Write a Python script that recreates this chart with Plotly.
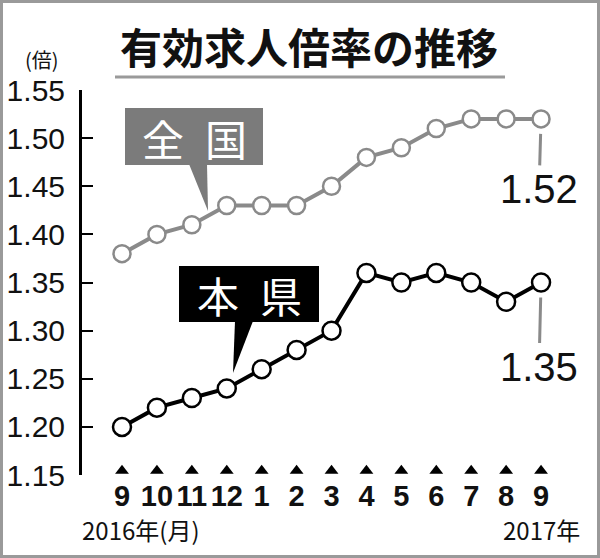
import plotly.graph_objects as go

months = ["9", "10", "11", "12", "1", "2", "3", "4", "5", "6", "7", "8", "9"]
national = [1.38, 1.40, 1.41, 1.43, 1.43, 1.43, 1.45, 1.48, 1.49, 1.51, 1.52, 1.52, 1.52]
prefecture = [1.20, 1.22, 1.23, 1.24, 1.26, 1.28, 1.30, 1.36, 1.35, 1.36, 1.35, 1.33, 1.35]
yticks = [1.15, 1.20, 1.25, 1.30, 1.35, 1.40, 1.45, 1.50, 1.55]
series_names = ["全　国", "本　県"]

W, H = 600, 558
L, R, T, B = 82, 10, 90, 83
PW, PH = W - L - R, H - T - B


def px(x):
    return (x - L) / PW


def py(y):
    return (H - B - y) / PH


idx = list(range(len(months)))
step = 34.92
x0 = -(122 - L) / step
x1 = (W - R - 122) / step

NUM = "Liberation Sans, Arial, sans-serif"
CJK = "Noto Sans CJK JP"

fig = go.Figure()

# dome tick marks at bottom
fig.add_trace(go.Scatter(
    x=idx, y=[yticks[0] + 0.0045] * len(idx), mode="markers",
    marker=dict(symbol="triangle-up", size=12, color="black"),
    hoverinfo="skip", showlegend=False, cliponaxis=False))

fig.add_trace(go.Scatter(
    x=idx, y=national, mode="lines+markers", name=series_names[0],
    line=dict(color="#8a8a8a", width=4),
    marker=dict(symbol="circle", size=17, color="white",
                line=dict(color="#8a8a8a", width=2.5)),
    showlegend=False, cliponaxis=False))

fig.add_trace(go.Scatter(
    x=idx, y=prefecture, mode="lines+markers", name=series_names[1],
    line=dict(color="black", width=4),
    marker=dict(symbol="circle", size=18, color="white",
                line=dict(color="black", width=2.5)),
    showlegend=False, cliponaxis=False))

shapes = []
annotations = []

# outer frame
shapes.append(dict(type="rect", xref="paper", yref="paper",
                   x0=px(1.5), x1=px(W - 1.5), y0=py(H - 1.5), y1=py(1.5),
                   line=dict(color="#9a9a9a", width=3)))

# title + underline
annotations.append(dict(text="有効求人倍率の推移", xref="paper", yref="paper",
                        x=px(309), y=py(46), showarrow=False,
                        font=dict(family=CJK, size=42, color="#111", weight=700),
                        xanchor="center", yanchor="middle"))
shapes.append(dict(type="line", xref="paper", yref="paper",
                   x0=px(115), x1=px(505), y0=py(77), y1=py(77),
                   line=dict(color="#9a9a9a", width=3)))

# unit label
annotations.append(dict(text="(倍)", xref="paper", yref="paper",
                        x=px(42), y=py(60), showarrow=False,
                        font=dict(family=CJK, size=20, color="#111"),
                        xanchor="center", yanchor="middle"))

# national label box
shapes.append(dict(type="rect", xref="paper", yref="paper",
                   x0=px(125), x1=px(263), y0=py(165), y1=py(108),
                   fillcolor="#7b7b7b", line=dict(width=0)))
shapes.append(dict(type="path", xref="paper", yref="paper",
                   path=f"M {px(189)} {py(164)} L {px(207)} {py(164)} L {px(208)} {py(211)} Z",
                   fillcolor="#7b7b7b", line=dict(width=0)))
annotations.append(dict(text="全\u2002国", xref="paper", yref="paper",
                        x=px(194), y=py(137), showarrow=False,
                        font=dict(family=CJK, size=42, color="white"),
                        xanchor="center", yanchor="middle"))

# prefecture label box
shapes.append(dict(type="rect", xref="paper", yref="paper",
                   x0=px(179), x1=px(319), y0=py(322), y1=py(266),
                   fillcolor="black", line=dict(width=0)))
shapes.append(dict(type="path", xref="paper", yref="paper",
                   path=f"M {px(235)} {py(321)} L {px(253)} {py(321)} L {px(233)} {py(373)} Z",
                   fillcolor="black", line=dict(width=0)))
annotations.append(dict(text="本\u2002県", xref="paper", yref="paper",
                        x=px(249), y=py(294), showarrow=False,
                        font=dict(family=CJK, size=42, color="white"),
                        xanchor="center", yanchor="middle"))

# last value labels
for vals, ay in ((national, 70), (prefecture, 84)):
    annotations.append(dict(text=f"{vals[-1]:.2f}", x=idx[-1], y=vals[-1],
                            xref="x", yref="y", showarrow=True,
                            arrowhead=0, arrowwidth=3, arrowcolor="#8a8a8a",
                            ax=-2, ay=ay, standoff=15,
                            font=dict(family=NUM, size=40, color="#111")))

# year labels
annotations.append(dict(text="2016年(月)", xref="paper", yref="paper",
                        x=px(80), y=py(529), showarrow=False,
                        font=dict(family=CJK, size=24, color="#111"),
                        xanchor="left", yanchor="middle"))
annotations.append(dict(text="2017年", xref="paper", yref="paper",
                        x=px(582), y=py(529), showarrow=False,
                        font=dict(family=CJK, size=24, color="#111"),
                        xanchor="right", yanchor="middle"))

fig.update_layout(
    width=W, height=H,
    margin=dict(l=L, r=R, t=T, b=B, pad=0, autoexpand=False),
    paper_bgcolor="white", plot_bgcolor="white",
    shapes=shapes, annotations=annotations,
    xaxis=dict(range=[x0, x1], tickvals=idx, ticktext=months,
               showgrid=False, zeroline=False, showline=False, ticks="",
               tickangle=0, automargin=False,
               tickfont=dict(family=NUM, size=29, color="#111", weight=700),
               ticklabelstandoff=1),
    yaxis=dict(range=[yticks[0], yticks[-1]], tickvals=yticks,
               ticktext=[f"{v:.2f}" for v in yticks], automargin=False,
               showgrid=False, zeroline=False, showline=True,
               linecolor="black", linewidth=3,
               ticks="inside", ticklen=11, tickwidth=2, tickcolor="black",
               tickfont=dict(family=NUM, size=30, color="#111"),
               ticklabelstandoff=8),
)

fig.write_html("out.html", config={"displayModeBar": False},
               post_script="document.body.style.margin='0';document.body.style.padding='0';")
